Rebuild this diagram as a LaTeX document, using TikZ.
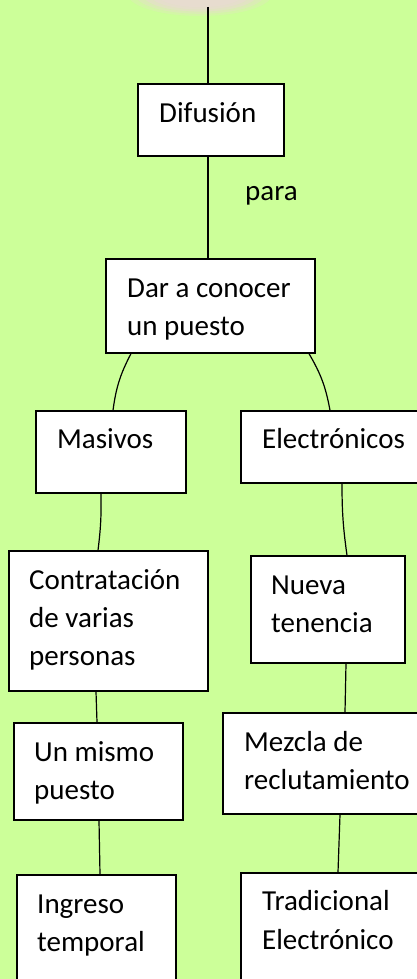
\documentclass[tikz,border=0pt]{standalone}
\usepackage{fontspec}
\setmainfont{Carlito}
\definecolor{bggreen}{RGB}{204,255,153}
\definecolor{blush}{RGB}{232,220,208}
\begin{document}
\begin{tikzpicture}[x=1pt,y=-1pt,
  box/.style={draw=black,line width=1.3pt,fill=white,inner sep=0pt,rectangle},
  txt/.style={anchor=base west,inner sep=0pt,font=\fontsize{29}{38}\selectfont},
  link/.style={draw=black,line width=1.2pt}]
\fill[bggreen] (0,0) rectangle (417,979);
\useasboundingbox (0,0) rectangle (417,979);
% soft top ellipse
\foreach \k/\o in {1.0/0.25,0.9/0.35,0.8/0.5,0.7/0.7,0.6/0.9}{
  \fill[blush,opacity=\o] (200,-6) ellipse ({72*\k} and {22*\k});
}
% boxes
\node[box,minimum width=146,minimum height=72] (dif) at (211,120) {};
\node[box,minimum width=209,minimum height=94] (dar) at (210.5,306) {};
\node[box,minimum width=150,minimum height=82] (mas) at (111,452) {};
\node[box,minimum width=189,minimum height=72] (ele) at (335.5,447) {};
\node[box,minimum width=199,minimum height=140] (con) at (108.5,621) {};
\node[box,minimum width=154,minimum height=107] (nue) at (328,609.5) {};
\node[box,minimum width=169,minimum height=97] (uni) at (98.5,771.5) {};
\node[box,minimum width=207,minimum height=101] (mez) at (326.5,763.5) {};
\node[box,minimum width=159,minimum height=125] (ing) at (96.5,937.5) {};
\node[box,minimum width=189,minimum height=127] (tra) at (335.5,936.5) {};
% connectors
\coordinate (top) at (208,7);
\draw[link] (top) -- (top |- dif.north);
\draw[link] ([xshift=-3pt]dif.south) -- ([xshift=-2.5pt]dar.north);
\draw[link] ([xshift=-79.5pt]dar.south) to[bend right=10] ([xshift=2pt]mas.north);
\draw[link] ([xshift=98.5pt]dar.south) to[bend left=10] ([xshift=-5.5pt]ele.north);
\draw[link] ([xshift=-10pt]mas.south) to[bend left=4] ([xshift=-10.5pt]con.north);
\draw[link] ([xshift=6.5pt]ele.south) to[bend right=4] ([xshift=19pt]nue.north);
\draw[link] ([xshift=-12.5pt]con.south) -- ([xshift=-1.5pt]uni.north);
\draw[link] ([xshift=18pt]nue.south) -- ([xshift=18.5pt]mez.north);
\draw[link] ([xshift=0.5pt]uni.south) -- ([xshift=3.5pt]ing.north);
\draw[link] ([xshift=13.5pt]mez.south) -- ([xshift=2.5pt]tra.north);
% texts
\node[txt] (tdif) at (159,122.7) {Difusión};
\node[txt] (tpara) at (245,200) {para};
\node[txt] (tdar1) at (127,297) {Dar a conocer};
\node[txt] (tdar2) at (127,335) {un puesto};
\node[txt] (tmas) at (57,448) {Masivos};
\node[txt] (tele) at (262,448) {Electrónicos};
\node[txt] (tcon1) at (29,589) {Contratación};
\node[txt] (tcon2) at (29,627) {de varias};
\node[txt] (tcon3) at (29,665) {personas};
\node[txt] (tnue1) at (271,594) {Nueva};
\node[txt] (tnue2) at (271,632) {tenencia};
\node[txt] (tuni1) at (34,761) {Un mismo};
\node[txt] (tuni2) at (34,799) {puesto};
\node[txt] (tmez1) at (244,751) {Mezcla de};
\node[txt] (tmez2) at (244,789) {reclutamiento};
\node[txt] (ting1) at (37,913) {Ingreso};
\node[txt] (ting2) at (37,951) {temporal};
\node[txt] (ttra1) at (262,910) {Tradicional};
\node[txt] (ttra2) at (262,949) {Electrónico};
\end{tikzpicture}
\end{document}
